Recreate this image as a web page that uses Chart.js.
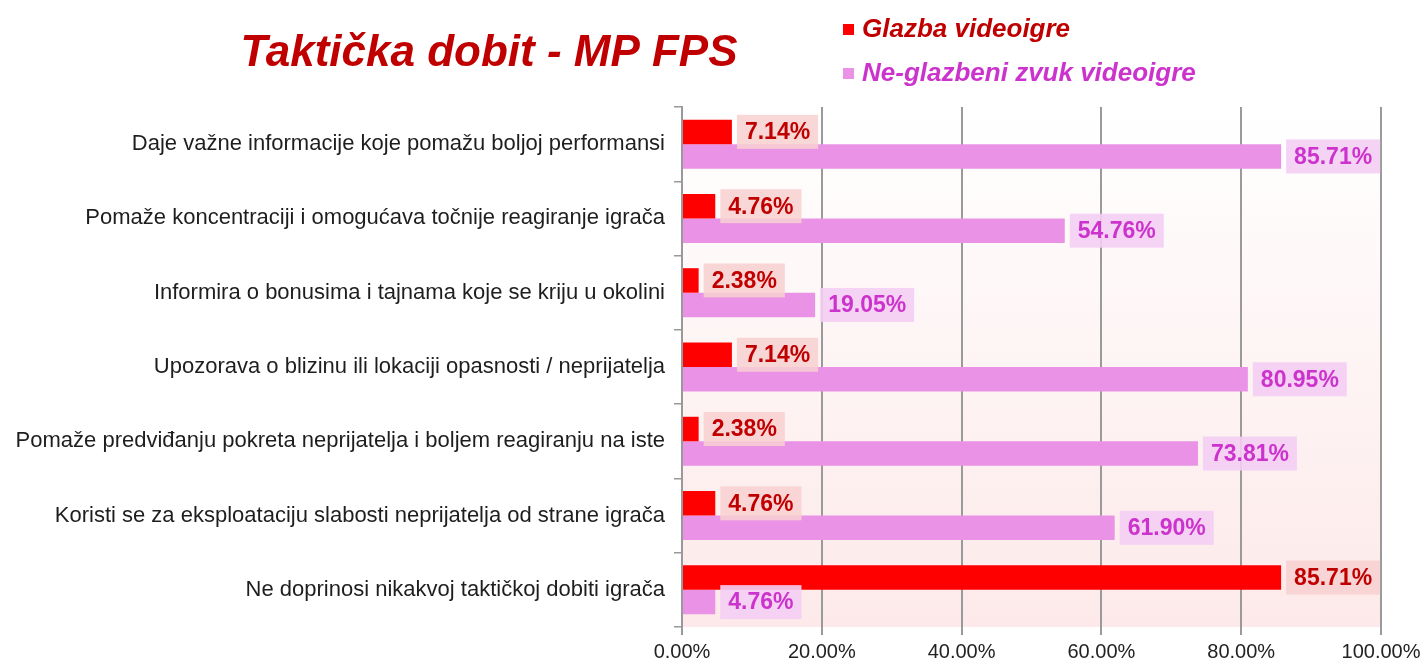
<!DOCTYPE html>
<html>
<head>
<meta charset="utf-8">
<script src="https://cdn.jsdelivr.net/npm/chart.js@4.4.1/dist/chart.umd.min.js"></script>
<style>
html,body{margin:0;padding:0;background:#fff;}
#wrap{position:relative;width:1427px;height:664px;}
</style>
</head>
<body>
<div id="wrap"><canvas id="c" width="1427" height="664"></canvas></div>
<script>
const categories = [
  "Daje važne informacije koje pomažu boljoj performansi",
  "Pomaže koncentraciji i omogućava točnije reagiranje igrača",
  "Informira o bonusima i tajnama koje se kriju u okolini",
  "Upozorava o blizinu ili lokaciji opasnosti / neprijatelja",
  "Pomaže predviđanju pokreta neprijatelja i boljem reagiranju na iste",
  "Koristi se za eksploataciju slabosti neprijatelja od strane igrača",
  "Ne doprinosi nikakvoj taktičkoj dobiti igrača"
];
const glazba = [7.14, 4.76, 2.38, 7.14, 2.38, 4.76, 85.71];
const neGlazbeni = [85.71, 54.76, 19.05, 80.95, 73.81, 61.90, 4.76];
const seriesNames = ["Glazba videoigre", "Ne-glazbeni zvuk videoigre"];
const titleText = "Taktička dobit - MP FPS";
const xTicks = [0, 20, 40, 60, 80, 100];

const FONT = "'Liberation Sans', Arial, sans-serif";
const labelStyles = [
  {text:'#c00000', box:'rgba(248,208,208,0.85)'},
  {text:'#cc33cc', box:'rgba(244,206,244,0.9)'}
];

const bgPlugin = {
  id:'bg',
  beforeDraw(chart){
    const {ctx, chartArea:a} = chart;
    const g = ctx.createLinearGradient(0, a.top, 0, a.bottom);
    g.addColorStop(0, '#ffffff');
    g.addColorStop(1, '#fde9e9');
    ctx.save();
    ctx.fillStyle = g;
    ctx.fillRect(a.left, a.top, a.right - a.left, a.bottom - a.top);
    ctx.restore();
  }
};

const labelPlugin = {
  id:'vlabels',
  afterDatasetsDraw(chart){
    const ctx = chart.ctx;
    ctx.save();
    ctx.font = "bold 23px " + FONT;
    ctx.textBaseline = 'middle';
    chart.data.datasets.forEach((ds, di) => {
      const meta = chart.getDatasetMeta(di);
      meta.data.forEach((bar, i) => {
        const txt = ds.data[i].toFixed(2) + '%';
        const w = ctx.measureText(txt).width;
        const x0 = bar.x + 5;
        const bw = w + 16, bh = 34;
        ctx.fillStyle = labelStyles[di].box;
        ctx.fillRect(x0, bar.y - bh/2, bw, bh);
        ctx.fillStyle = labelStyles[di].text;
        ctx.textAlign = 'left';
        ctx.fillText(txt, x0 + 8, bar.y + 1);
      });
    });
    ctx.restore();
  }
};

const headPlugin = {
  id:'head',
  afterDraw(chart){
    const ctx = chart.ctx;
    ctx.save();
    ctx.font = "italic bold 44px " + FONT;
    ctx.fillStyle = '#c00000';
    ctx.textAlign = 'center';
    ctx.textBaseline = 'alphabetic';
    ctx.fillText(titleText, 489, 66);
    ctx.font = "italic bold 26px " + FONT;
    ctx.textAlign = 'left';
    ctx.textBaseline = 'middle';
    const cols = ['#ff0000', '#e992e6'];
    const tcols = ['#c00000', '#cc33cc'];
    const ys = [29, 73];
    for (let k = 0; k < 2; k++) {
      ctx.fillStyle = cols[k];
      ctx.fillRect(843, ys[k] - 5, 11, 11);
      ctx.fillStyle = tcols[k];
      ctx.fillText(seriesNames[k], 862, ys[k] + 1);
    }
    ctx.restore();
  }
};

new Chart(document.getElementById('c'), {
  type:'bar',
  data:{
    labels: categories,
    datasets:[
      {label: seriesNames[0], data: glazba, backgroundColor:'#ff0000', categoryPercentage:0.66, barPercentage:1.0},
      {label: seriesNames[1], data: neGlazbeni, backgroundColor:'#e992e6', categoryPercentage:0.66, barPercentage:1.0}
    ]
  },
  options:{
    indexAxis:'y',
    responsive:false,
    animation:false,
    layout:{padding:{top:107, right:46, left:0, bottom:0}},
    plugins:{legend:{display:false}, title:{display:false}, tooltip:{enabled:false}},
    scales:{
      y:{
        type:'category',
        afterFit(s){ s.width = 682; },
        grid:{drawOnChartArea:false, drawTicks:true, tickLength:8, offset:true, color:'#999', lineWidth:1.5},
        border:{display:true, color:'#999', width:2},
        ticks:{color:'#1e1e1e', padding:9, font:{family:FONT, size:22}}
      },
      x:{
        min:0, max:100,
        afterFit(s){ s.height = 37; },
        afterBuildTicks(s){ s.ticks = xTicks.map(v => ({value:v})); },
        grid:{color:'#9a9a9a', lineWidth:2, tickLength:8},
        border:{display:false},
        ticks:{color:'#222', padding:5, font:{family:FONT, size:20}, callback:v => Number(v).toFixed(2) + '%'}
      }
    }
  },
  plugins:[bgPlugin, labelPlugin, headPlugin]
});
</script>
</body>
</html>
